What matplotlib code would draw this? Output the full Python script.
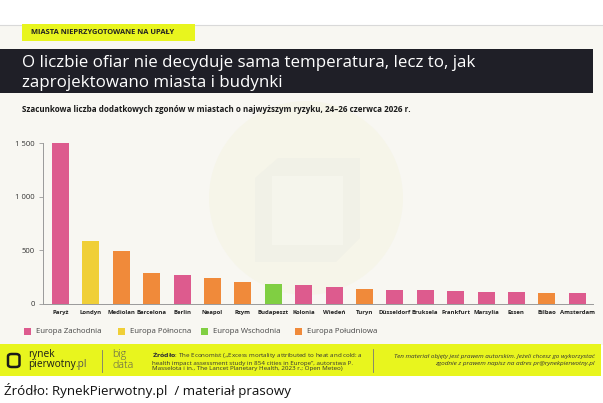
import matplotlib
matplotlib.use("Agg")
import matplotlib.pyplot as plt
from matplotlib.patches import Rectangle, Ellipse, FancyBboxPatch, Polygon

# ---------------- data ----------------
cities = ["Paryż", "Londyn", "Mediolan", "Barcelona", "Berlin", "Neapol", "Rzym",
          "Budapeszt", "Kolonia", "Wiedeń", "Turyn", "Düsseldorf", "Bruksela",
          "Frankfurt", "Marsylia", "Essen", "Bilbao", "Amsterdam"]
deaths = [1500, 590, 491, 292, 273, 242, 208, 189, 174, 161, 140, 133, 131,
          124, 109, 108, 102, 100]
regions = ["W", "N", "S", "S", "W", "S", "S", "E", "W", "W", "S", "W", "W",
           "W", "W", "W", "S", "W"]
region_labels = {"W": "Europa Zachodnia", "N": "Europa Północna",
                 "E": "Europa Wschodnia", "S": "Europa Południowa"}
region_order = ["W", "N", "E", "S"]
yticks = [0, 500, 1000, 1500]
ytick_labels = ["0", "500", "1 000", "1 500"]

colors = {"W": "#dd5b8e", "N": "#f0cf37", "E": "#80cf42", "S": "#f08a3a"}

W, H = 603, 403
fig = plt.figure(figsize=(W / 100, H / 100), dpi=100)
fig.patch.set_facecolor("white")
FONT = ["Open Sans", "DejaVu Sans"]
plt.rcParams["font.family"] = FONT


def fx(x):
    return x / W


def fy(y):
    return 1 - y / H


def rect(x0, y0, x1, y1, color, z=0, **kw):
    fig.add_artist(Rectangle((fx(x0), fy(y1)), fx(x1 - x0), (y1 - y0) / H,
                             transform=fig.transFigure, facecolor=color,
                             edgecolor="none", zorder=z, **kw))


# backgrounds
rect(0, 25, W, 345, "#f8f7f2", z=0)
fig.add_artist(plt.Line2D([0, 1], [fy(25), fy(25)], transform=fig.transFigure,
                          color="#d9d9d9", lw=0.8, zorder=1))
# watermark
fig.add_artist(Ellipse((fx(306), fy(198)), 194 / W, 194 / H, transform=fig.transFigure,
                       facecolor="#f6f5e9", edgecolor="none", zorder=0.5))
fig.add_artist(Polygon([(fx(255), fy(178)), (fx(278), fy(158)), (fx(360), fy(158)),
                        (fx(360), fy(238)), (fx(336), fy(262)), (fx(255), fy(262))],
                       closed=True, transform=fig.transFigure, facecolor="#f1f1e7",
                       edgecolor="none", zorder=0.6))
rect(272, 176, 343, 245, "#f5f5ec", z=0.7)

# tag
rect(22, 24, 195, 41, "#e8f51e", z=2)
fig.text(fx(31), fy(32.5), "MIASTA NIEPRZYGOTOWANE NA UPAŁY", fontsize=5.4,
         fontweight="bold", color="#222222", va="center", ha="left", zorder=3)

# title banner
rect(0, 49, 593, 93, "#1f1f27", z=2)
fig.text(fx(22), fy(63), "O liczbie ofiar nie decyduje sama temperatura, lecz to, jak",
         fontsize=12.2, color="white", va="center", ha="left", zorder=3,
         fontweight="medium")
fig.text(fx(22), fy(83), "zaprojektowano miasta i budynki",
         fontsize=12.2, color="white", va="center", ha="left", zorder=3,
         fontweight="medium")

# subtitle
fig.text(fx(22), fy(110),
         "Szacunkowa liczba dodatkowych zgonów w miastach o najwyższym ryzyku, 24–26 czerwca 2026 r.",
         fontsize=5.75, fontweight="bold", color="#1a1a1a", va="center", ha="left")

# ---------------- chart ----------------
ax = fig.add_axes([fx(43), fy(304), fx(593 - 43), (304 - 143) / H])
ax.set_zorder(5)
ax.set_facecolor("none")
x = list(range(len(cities)))
ax.bar(x, deaths, width=0.56, color=[colors[r] for r in regions], zorder=3)
ax.set_xlim(-0.576, 17.52)
ax.set_ylim(0, 1500)
ax.set_yticks(yticks)
ax.set_yticklabels(ytick_labels, fontsize=5.5, color="#333333")
ax.set_xticks(x)
ax.set_xticklabels(cities, fontsize=4.3, fontweight="bold", color="#222222")
ax.tick_params(axis="y", length=3, width=0.6, color="#999999", pad=3)
ax.tick_params(axis="x", length=0, pad=4)
for s in ["top", "right"]:
    ax.spines[s].set_visible(False)
for s in ["left", "bottom"]:
    ax.spines[s].set_color("#9a9a9a")
    ax.spines[s].set_linewidth(0.7)

# legend (manual)
leg_x = [24, 118, 201, 295]
for r, lx in zip(region_order, leg_x):
    rect(lx, 328, lx + 7, 335, colors[r], z=3)
    fig.text(fx(lx + 12), fy(331.5), region_labels[r], fontsize=5.6,
             color="#444444", va="center", ha="left", zorder=3)

# ---------------- footer ----------------
rect(0, 344, 601, 376, "#e8f51e", z=2)
fig.add_artist(FancyBboxPatch((fx(8), fy(367)), fx(11.5), 13 / H,
                              boxstyle="round,pad=0,rounding_size=0.006",
                              transform=fig.transFigure, facecolor="none",
                              edgecolor="#1a1a1a", lw=1.8, zorder=3))
fig.text(fx(28), fy(354.5), "rynek", fontsize=7.3, color="#1a1a1a",
         va="center", ha="left", zorder=3, fontweight="medium")
t_p = fig.text(fx(28), fy(365), "pierwotny", fontsize=7.3, color="#1a1a1a",
               va="center", ha="left", zorder=3, fontweight="medium")
fig.add_artist(matplotlib.text.Annotation(".pl", xy=(1, 0), xycoords=t_p,
                                          va="bottom", ha="left", fontsize=7.3,
                                          color="#555555", zorder=3))
fig.add_artist(plt.Line2D([fx(102), fx(102)], [fy(350), fy(372)],
                          transform=fig.transFigure, color="#777777", lw=0.6, zorder=3))
fig.text(fx(112), fy(355), "big", fontsize=7.6, color="#555555", va="center",
         ha="left", zorder=3, fontweight="light")
fig.text(fx(112), fy(365), "data", fontsize=7.6, color="#555555", va="center",
         ha="left", zorder=3, fontweight="light")

src = ("$\\bf{Źródło}$: The Economist („Excess mortality attributed to heat and cold: a\n"
       "health impact assessment study in 854 cities in Europe”, autorstwa P.\n"
       "Masselota i in., The Lancet Planetary Health, 2023 r.; Open Meteo)")
fig.text(fx(152), fy(360), src, fontsize=4.5, color="#333333", va="center",
         ha="left", zorder=3, linespacing=1.2)
fig.add_artist(plt.Line2D([fx(373), fx(373)], [fy(349), fy(372)],
                          transform=fig.transFigure, color="#777777", lw=0.6, zorder=3))
fig.text(fx(595), fy(356.5), "Ten materiał objęty jest prawem autorskim. Jeżeli chcesz go wykorzystać",
         fontsize=4.6, color="#333333", va="center", ha="right", zorder=3, style="italic")
fig.text(fx(595), fy(363.5), "zgodnie z prawem napisz na adres pr@rynekpierwotny.pl",
         fontsize=4.6, color="#333333", va="center", ha="right", zorder=3, style="italic")

# caption
fig.text(fx(4), fy(391), "Źródło: RynekPierwotny.pl  / materiał prasowy",
         fontsize=9.6, color="#111111", va="center", ha="left")

fig.savefig("out.png", dpi=100, facecolor=fig.get_facecolor())
